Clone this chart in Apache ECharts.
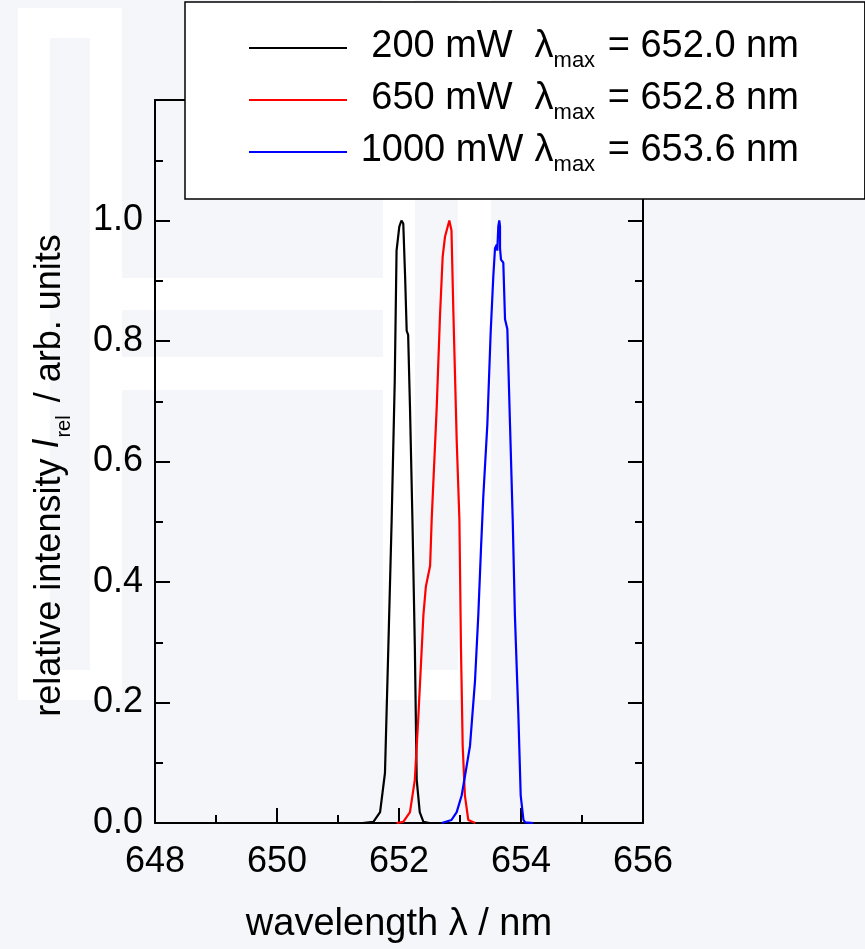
<!DOCTYPE html>
<html>
<head>
<meta charset="utf-8">
<script src="https://cdn.jsdelivr.net/npm/echarts@6/dist/echarts.min.js"></script>
<style>
html,body{margin:0;padding:0;background:#f5f6f9;}
#c{width:865px;height:949px;}
</style>
</head>
<body>
<div id="c"></div>
<script>
// ---- data ----
const seriesNames = ['200 mW', '650 mW', '1000 mW'];
const lambdaMax = ['652.0', '652.8', '653.6'];
const seriesColors = ['#000000', '#ff0000', '#0000ff'];

const wl200 = [651.00, 651.40, 651.58, 651.69, 651.77, 651.825, 651.88, 651.93, 651.96, 652.005, 652.04, 652.07, 652.10, 652.126, 652.15, 652.18, 652.22, 652.26, 652.29, 652.34, 652.40, 652.50];
const int200 = [0, 0, 0.002, 0.018, 0.083, 0.291, 0.504, 0.733, 0.95, 0.99, 1.0, 0.995, 0.907, 0.817, 0.81, 0.69, 0.504, 0.29, 0.072, 0.018, 0.002, 0];

const wl650 = [651.96, 652.07, 652.18, 652.26, 652.32, 652.40, 652.44, 652.51, 652.536, 652.618, 652.672, 652.716, 652.754, 652.825, 652.86, 652.89, 652.946, 652.99, 653.016, 653.044, 653.08, 653.136, 653.25];
const int650 = [0, 0.002, 0.018, 0.072, 0.182, 0.345, 0.392, 0.427, 0.504, 0.689, 0.842, 0.94, 0.973, 1.0, 0.984, 0.853, 0.635, 0.504, 0.29, 0.128, 0.046, 0.005, 0];

const wl1000 = [652.70, 652.86, 652.946, 653.028, 653.098, 653.164, 653.246, 653.30, 653.344, 653.382, 653.448, 653.503, 653.546, 653.574, 653.602, 653.611, 653.628, 653.644, 653.656, 653.656, 653.672, 653.71, 653.738, 653.776, 653.82, 653.864, 653.90, 653.956, 653.995, 654.04, 654.07, 654.20];
const int1000 = [0, 0.005, 0.018, 0.046, 0.088, 0.128, 0.236, 0.345, 0.455, 0.542, 0.661, 0.815, 0.907, 0.954, 0.96, 0.95, 0.99, 1.0, 0.99, 0.954, 0.935, 0.93, 0.836, 0.82, 0.661, 0.504, 0.345, 0.182, 0.046, 0.005, 0.001, 0];

const xTickLabels = ['648', '650', '652', '654', '656'];
const yTickLabels = ['0.0', '0.2', '0.4', '0.6', '0.8', '1.0'];

// ---- chart ----
function pairs(xs, ys) { return xs.map((v, i) => [v, ys[i]]); }
const allData = [pairs(wl200, int200), pairs(wl650, int650), pairs(wl1000, int1000)];

const FONT = '"Liberation Sans", Arial, sans-serif';
const BG = '#f5f6f9';
const chart = echarts.init(document.getElementById('c'), null, {renderer: 'canvas'});

const axisCommon = {
  axisLine: {show: true, onZero: false, lineStyle: {color: '#000', width: 2}},
  axisTick: {show: true, inside: true, length: 15, lineStyle: {color: '#000', width: 2}},
  minorTick: {show: true, splitNumber: 2, length: 8, lineStyle: {color: '#000', width: 2}},
  splitLine: {show: false}
};

const option = {
  backgroundColor: BG,
  animation: false,
  textStyle: {fontFamily: FONT},
  graphic: [
    // faint watermark logo behind the plot
    {type: 'rect', z: -10, shape: {x: 18, y: 8, width: 104, height: 692}, style: {fill: '#ffffff'}},
    {type: 'rect', z: -9, shape: {x: 50, y: 38, width: 40, height: 632}, style: {fill: BG}},
    {type: 'rect', z: -10, shape: {x: 90, y: 278, width: 325, height: 112}, style: {fill: '#ffffff'}},
    {type: 'rect', z: -9, shape: {x: 122, y: 310, width: 261, height: 47}, style: {fill: BG}},
    {type: 'rect', z: -10, shape: {x: 383, y: 0, width: 108, height: 700}, style: {fill: '#ffffff'}},
    {type: 'rect', z: -9, shape: {x: 415, y: 0, width: 43, height: 670}, style: {fill: BG}}
  ],
  grid: {left: 155, right: 222, top: 100, bottom: 118, containLabel: false},
  legend: {
    orient: 'vertical',
    left: 185, top: 2,
    padding: [26, 66, 23, 64],
    backgroundColor: '#ffffff',
    borderColor: '#000', borderWidth: 1.5, borderRadius: 0,
    icon: 'rect',
    itemWidth: 98, itemHeight: 2, itemGap: 8,
    data: seriesNames,
    formatter: function (name) {
      const i = seriesNames.indexOf(name);
      return '{p|' + name + '}{a| λ}{s|max}{a| = ' + lambdaMax[i] + ' nm}';
    },
    textStyle: {
      fontFamily: FONT, fontSize: 38, color: '#000',
      rich: {
        p: {fontFamily: FONT, fontSize: 38, color: '#000', width: 164, align: 'right', padding: [0, 0, 0, 8], lineHeight: 40, verticalAlign: 'top'},
        a: {fontFamily: FONT, fontSize: 38, color: '#000', lineHeight: 40, verticalAlign: 'top'},
        s: {fontFamily: FONT, fontSize: 22, color: '#000', lineHeight: 20, padding: [22, 2, 0, 0], verticalAlign: 'top'}
      }
    }
  },
  xAxis: [
    Object.assign({}, axisCommon, {
      type: 'value', position: 'bottom', min: 648, max: 656, interval: 2,
      axisLabel: {show: true, margin: 21, fontFamily: FONT, fontSize: 36, color: '#000',
        formatter: v => { const s = String(Math.round(v)); return xTickLabels.indexOf(s) >= 0 ? s : ''; }},
      name: 'wavelength λ / nm', nameLocation: 'middle', nameGap: 83,
      nameTextStyle: {fontFamily: FONT, fontSize: 38, color: '#000'}
    }),
    Object.assign({}, axisCommon, {
      type: 'value', position: 'top', min: 648, max: 656, interval: 2,
      axisLabel: {show: false}
    })
  ],
  yAxis: [
    Object.assign({}, axisCommon, {
      type: 'value', position: 'left', min: 0, max: 1.2, interval: 0.2,
      axisLabel: {show: true, margin: 12, fontFamily: FONT, fontSize: 36, color: '#000',
        formatter: v => { const s = v.toFixed(1); return yTickLabels.indexOf(s) >= 0 ? s : ''; }},
      name: 'relative intensity {i|I}{s|rel} / arb. units',
      nameLocation: 'middle', nameRotate: 90, nameGap: 85,
      nameTextStyle: {fontFamily: FONT, fontSize: 36, color: '#000', padding: [0, 28, 0, 0],
        rich: {
          i: {fontFamily: FONT, fontSize: 36, fontStyle: 'italic', color: '#000', lineHeight: 40, verticalAlign: 'top'},
          s: {fontFamily: FONT, fontSize: 20, color: '#000', lineHeight: 20, padding: [24, 3, 0, 1], verticalAlign: 'top'}
        }}
    }),
    Object.assign({}, axisCommon, {
      type: 'value', position: 'right', min: 0, max: 1.2, interval: 0.2,
      axisLabel: {show: false}
    })
  ],
  series: seriesNames.map((n, i) => ({
    name: n, type: 'line', data: allData[i],
    xAxisIndex: 0, yAxisIndex: 0,
    symbol: 'none', showSymbol: false, smooth: false,
    lineStyle: {color: seriesColors[i], width: 2.2},
    itemStyle: {color: seriesColors[i]},
    z: 3
  }))
};
chart.setOption(option);
</script>
</body>
</html>
